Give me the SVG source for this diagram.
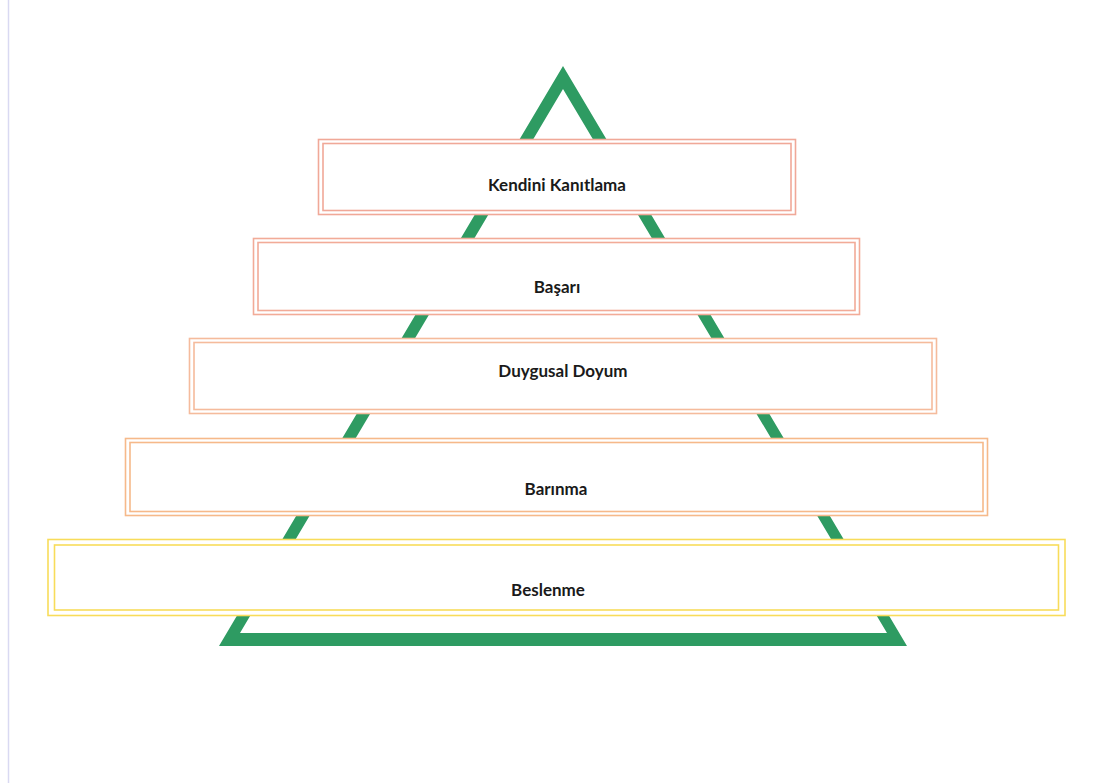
<svg xmlns="http://www.w3.org/2000/svg" width="1107" height="783" viewBox="0 0 1107 783">
<style>
.o{fill:#ffffff;stroke-width:1.6}
.i{fill:#ffffff;stroke-width:1.6}
.t{font-family:Lato,"Open Sans",sans-serif;font-weight:bold;font-size:17px;fill:#1a1a1a;text-anchor:middle}
</style>
<rect x="0" y="0" width="1107" height="783" fill="#ffffff"/>
<line x1="8.5" y1="0" x2="8.5" y2="783" stroke="#d9d9f2" stroke-width="1.5"/>
<g id="pyramid">
<path d="M563 66 L219 646 L907 646 Z M563 89 L240 633 L887 633 Z" fill="#2e9b62" fill-rule="evenodd"/>
</g>
<g id="connectors"></g>
<g id="n1">
<rect class="o" x="318.5" y="139.5" width="477" height="75" stroke="#f0a898"/>
<rect class="i" x="323" y="143.5" width="468" height="67" stroke="#f0a898"/>
<text class="t" x="557" y="191">Kendini Kanıtlama</text>
</g>
<g id="n2">
<rect class="o" x="253.5" y="238.5" width="606" height="76" stroke="#f2ab98"/>
<rect class="i" x="258" y="242.5" width="597" height="68" stroke="#f2ab98"/>
<text class="t" x="557" y="293">Başarı</text>
</g>
<g id="n3">
<rect class="o" x="189.5" y="338.5" width="747" height="75" stroke="#f5bb9c"/>
<rect class="i" x="194" y="342.5" width="738" height="67" stroke="#f5bb9c"/>
<text class="t" x="563" y="377">Duygusal Doyum</text>
</g>
<g id="n4">
<rect class="o" x="125.5" y="438.5" width="862" height="77" stroke="#f6b98a"/>
<rect class="i" x="130" y="442.5" width="853" height="69" stroke="#f6b98a"/>
<text class="t" x="556" y="495">Barınma</text>
</g>
<g id="n5">
<rect class="o" x="48" y="539.5" width="1017" height="76" stroke="#f8dc5a"/>
<rect class="i" x="54.5" y="545" width="1004" height="65" stroke="#f8dc5a"/>
<text class="t" x="548" y="596">Beslenme</text>
</g>
</svg>
